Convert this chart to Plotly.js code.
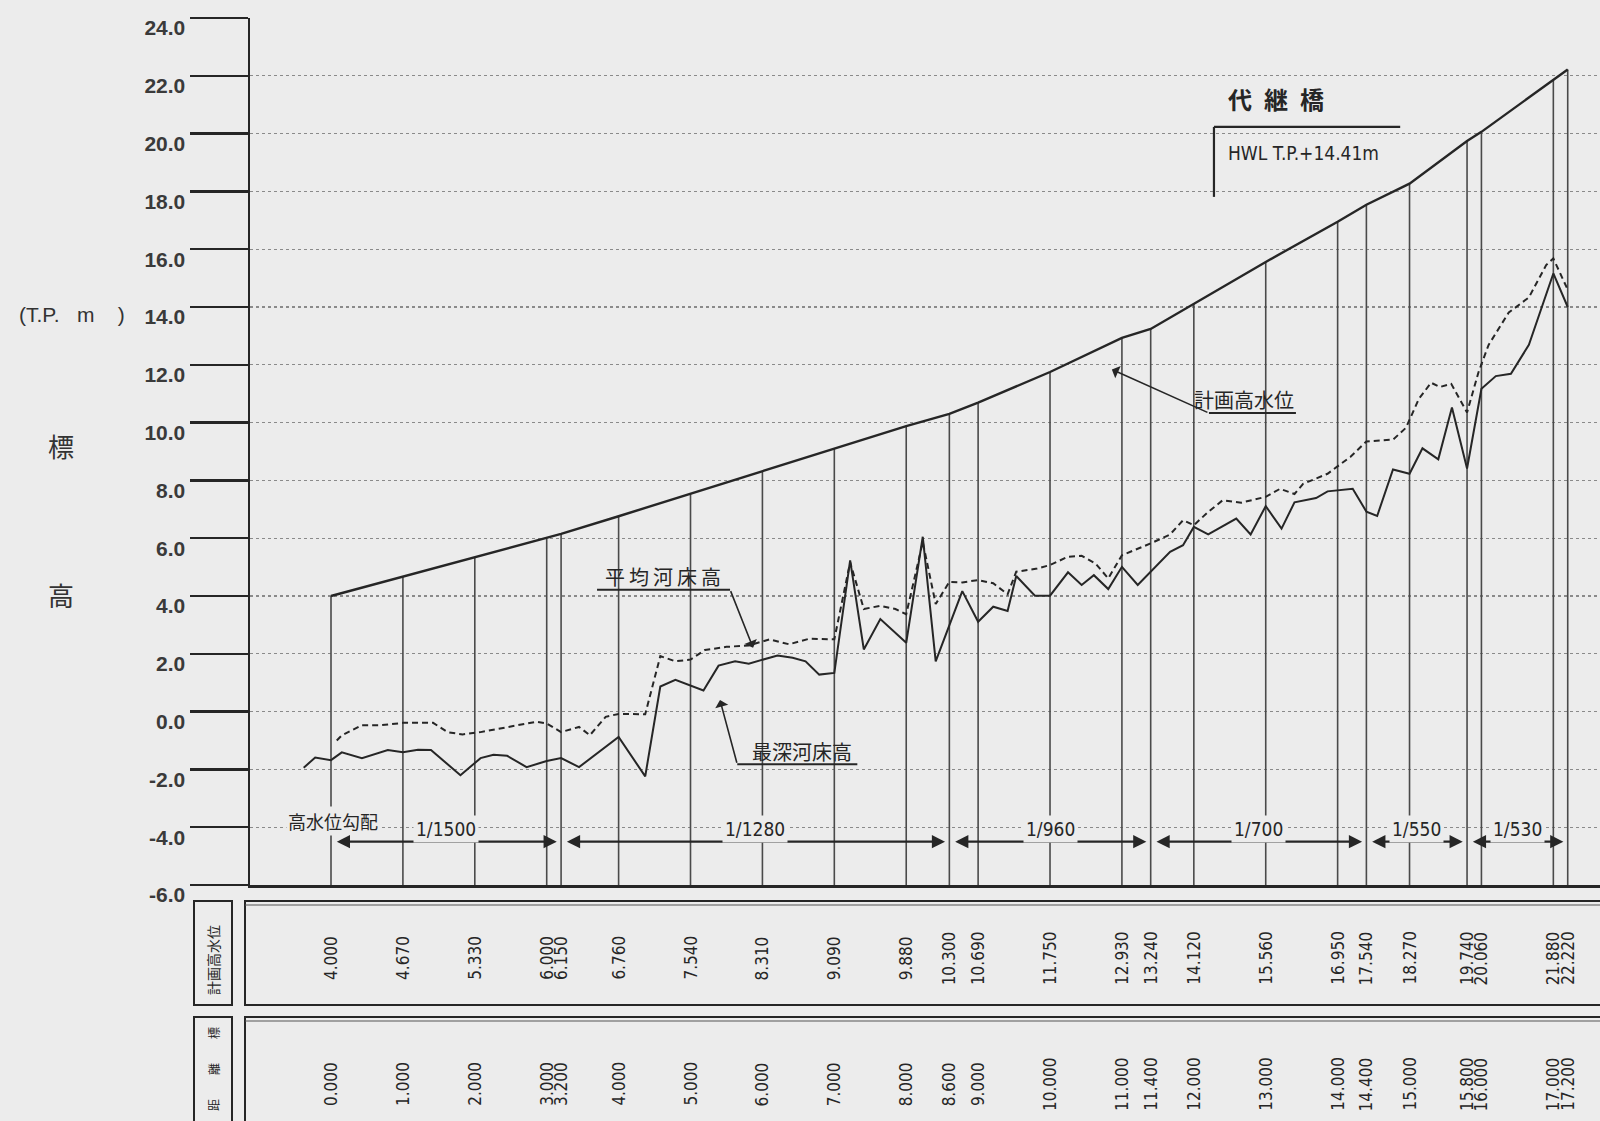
<!DOCTYPE html>
<html>
<head>
<meta charset="utf-8">
<script src="https://cdn.plot.ly/plotly-3.0.1.min.js"></script>
<style>
  html, body { margin: 0; padding: 0; background: #ececec; }
  #chart { width: 1600px; height: 1121px; }
</style>
</head>
<body>
<div id="chart"></div>
<script>
// ---- Data ----
// 距離標 (km) of each section line
const stationKm = [0.0, 1.0, 2.0, 3.0, 3.2, 4.0, 5.0, 6.0, 7.0, 8.0, 8.6, 9.0, 10.0, 11.0, 11.4, 12.0, 13.0, 14.0, 14.4, 15.0, 15.8, 16.0, 17.0, 17.2];
const stationLabels = ["0.000","1.000","2.000","3.000","3.200","4.000","5.000","6.000","7.000","8.000","8.600","9.000","10.000","11.000","11.400","12.000","13.000","14.000","14.400","15.000","15.800","16.000","17.000","17.200"];
// 計画高水位 (T.P. m)
const hwlValues = [4.000, 4.670, 5.330, 6.000, 6.150, 6.760, 7.540, 8.310, 9.090, 9.880, 10.300, 10.690, 11.750, 12.930, 13.240, 14.120, 15.560, 16.950, 17.540, 18.270, 19.740, 20.060, 21.880, 22.220];
const hwlLabels = ["4.000","4.670","5.330","6.000","6.150","6.760","7.540","8.310","9.090","9.880","10.300","10.690","11.750","12.930","13.240","14.120","15.560","16.950","17.540","18.270","19.740","20.060","21.880","22.220"];

// 最深河床高 (deepest bed)
const deepKm = [-0.38,-0.22,0.0,0.15,0.43,0.79,1.0,1.21,1.39,1.8,2.08,2.26,2.45,2.72,3.0,3.2,3.45,4.0,4.37,4.58,4.79,5.0,5.18,5.39,5.62,5.81,6.0,6.21,6.42,6.6,6.79,7.0,7.22,7.41,7.64,8.0,8.23,8.41,8.78,9.0,9.21,9.41,9.53,9.79,10.0,10.25,10.44,10.61,10.81,11.0,11.22,11.67,11.85,12.0,12.2,12.59,12.79,13.0,13.22,13.4,13.7,13.86,14.21,14.4,14.55,14.77,15.0,15.18,15.4,15.59,15.8,16.0,16.2,16.41,16.66,17.0,17.2];
const deepEl = [-1.94,-1.59,-1.68,-1.41,-1.61,-1.33,-1.41,-1.32,-1.33,-2.2,-1.61,-1.49,-1.53,-1.92,-1.71,-1.61,-1.92,-0.88,-2.24,0.87,1.1,0.9,0.73,1.59,1.74,1.66,1.8,1.94,1.86,1.74,1.28,1.34,5.23,2.15,3.2,2.38,6.05,1.74,4.17,3.11,3.63,3.48,4.69,4.01,4.01,4.82,4.38,4.72,4.24,5.01,4.38,5.53,5.76,6.39,6.13,6.68,6.13,7.11,6.33,7.24,7.39,7.62,7.71,6.92,6.77,8.38,8.23,9.11,8.73,10.52,8.41,11.17,11.61,11.69,12.69,15.16,14.0];

// 平均河床高 (mean bed)
const meanKm = [0.08,0.15,0.43,0.7,1.0,1.42,1.62,1.83,2.08,2.45,2.86,3.0,3.2,3.45,3.6,3.82,4.0,4.37,4.58,4.79,5.0,5.2,5.5,5.81,6.1,6.37,6.65,7.0,7.22,7.41,7.64,7.85,8.0,8.23,8.41,8.6,8.78,9.0,9.21,9.41,9.53,9.82,10.0,10.25,10.44,10.63,10.81,11.0,11.4,11.67,11.85,12.0,12.2,12.4,12.66,13.0,13.2,13.4,13.52,13.86,14.18,14.4,14.77,14.95,15.13,15.3,15.42,15.58,15.74,15.8,15.96,16.1,16.38,16.66,16.9,17.0,17.2];
const meanEl = [-1.0,-0.82,-0.47,-0.47,-0.39,-0.39,-0.71,-0.79,-0.71,-0.53,-0.35,-0.41,-0.71,-0.53,-0.82,-0.18,-0.08,-0.09,1.92,1.74,1.8,2.13,2.24,2.29,2.5,2.33,2.52,2.5,5.17,3.55,3.66,3.55,3.37,5.87,3.72,4.49,4.47,4.55,4.44,4.06,4.84,4.95,5.07,5.36,5.39,5.13,4.61,5.41,5.82,6.13,6.62,6.45,6.91,7.31,7.23,7.43,7.71,7.53,7.88,8.23,8.82,9.35,9.41,9.82,10.82,11.38,11.23,11.34,10.64,10.35,11.75,12.69,13.81,14.33,15.45,15.68,14.6];

// 高水位勾配 sections
const slopeStart = [0.0, 3.2, 8.6, 11.4, 14.4, 15.8];
const slopeEnd   = [3.2, 8.6, 11.4, 14.4, 15.8, 17.2];
const slopeLabels = ["1/1500", "1/1280", "1/960", "1/700", "1/550", "1/530"];

// Y axis ticks
const yTicks = [-6,-4,-2,0,2,4,6,8,10,12,14,16,18,20,22,24];
const yTickText = ["-6.0","-4.0","-2.0","0.0","2.0","4.0","6.0","8.0","10.0","12.0","14.0","16.0","18.0","20.0","22.0","24.0"];

// ---- Styling ----
const INK = '#262626';
const BG = '#ececec';
const JP = '"Noto Sans CJK JP", "Noto Sans", sans-serif';
const NUM = '"Liberation Sans Narrow", "DejaVu Sans Condensed", "Liberation Sans", Arial, sans-serif';
const Y_BOTTOM = -6;

// vertical section lines from HWL down to the bottom
const vx = [], vy = [];
stationKm.forEach((k, i) => { vx.push(k, k, null); vy.push(hwlValues[i], Y_BOTTOM, null); });

const traces = [
  { x: vx, y: vy, mode: 'lines', line: { color: '#4a4a4a', width: 1.6 }, hoverinfo: 'skip', showlegend: false },
  { x: stationKm, y: hwlValues, mode: 'lines', name: '計画高水位', line: { color: INK, width: 2.4 }, showlegend: false },
  { x: meanKm, y: meanEl, mode: 'lines', name: '平均河床高', line: { color: INK, width: 2, dash: '6px,4px' }, showlegend: false },
  { x: deepKm, y: deepEl, mode: 'lines', name: '最深河床高', line: { color: INK, width: 2 }, showlegend: false }
];

// pixel -> paper helpers for the table area (plot area: x 250..1600, y 18..885)
const L = 250, R = 1600, T = 18, B = 885;
const px = p => (p - L) / (R - L);
const py = p => (B - p) / (B - T);

const annotations = [];
const shapes = [];

// table numbers
stationKm.forEach((k, i) => {
  annotations.push({ x: k, xref: 'x', y: py(958), yref: 'paper', text: hwlLabels[i], showarrow: false,
    textangle: -90, font: { family: NUM, size: 17, color: INK }, xanchor: 'center', yanchor: 'middle' });
  annotations.push({ x: k, xref: 'x', y: py(1084), yref: 'paper', text: stationLabels[i], showarrow: false,
    textangle: -90, font: { family: NUM, size: 17, color: INK }, xanchor: 'center', yanchor: 'middle' });
});

// table boxes
function rect(x0, y0, x1, y1, w) {
  shapes.push({ type: 'rect', xref: 'paper', yref: 'paper', x0: px(x0), x1: px(x1), y0: py(y0), y1: py(y1),
    line: { color: INK, width: w }, fillcolor: 'rgba(0,0,0,0)', layer: 'above' });
}
rect(194, 901, 232, 1005, 2);
rect(245, 901, 1620, 1005, 2);
rect(194, 1017, 232, 1122, 2);
rect(245, 1017, 1620, 1122, 2);
// double inner top line
shapes.push({ type: 'line', xref: 'paper', yref: 'paper', x0: px(245), x1: px(1620), y0: py(905), y1: py(905), line: { color: '#555', width: 1 } });
shapes.push({ type: 'line', xref: 'paper', yref: 'paper', x0: px(245), x1: px(1620), y0: py(1021), y1: py(1021), line: { color: '#555', width: 1 } });

annotations.push({ x: px(213), y: py(960), xref: 'paper', yref: 'paper', xanchor: 'center', yanchor: 'middle',
  text: '計画高水位', showarrow: false, textangle: -90, font: { family: JP, size: 14, color: INK } });
annotations.push({ x: px(213), y: py(1069), xref: 'paper', yref: 'paper', xanchor: 'center', yanchor: 'middle',
  text: '距\u2003\u2003離\u2003\u2003標', showarrow: false, textangle: -90, font: { family: JP, size: 12, color: INK } });

// y-axis title pieces
annotations.push({ x: px(72), y: py(314), xref: 'paper', yref: 'paper', xanchor: 'center', yanchor: 'middle',
  text: '(T.P.\u00a0\u00a0\u00a0m\u00a0\u00a0\u00a0\u00a0)', showarrow: false,
  font: { family: '"Liberation Sans", Arial, sans-serif', size: 21, color: '#333' } });
annotations.push({ x: px(61), y: py(445), xref: 'paper', yref: 'paper', xanchor: 'center', yanchor: 'middle',
  text: '標', showarrow: false, font: { family: JP, size: 26, color: '#333' } });
annotations.push({ x: px(61), y: py(594), xref: 'paper', yref: 'paper', xanchor: 'center', yanchor: 'middle',
  text: '高', showarrow: false, font: { family: JP, size: 26, color: '#333' } });

// slope section arrows and labels
annotations.push({ x: 0.03, y: -3.8, xanchor: 'center', text: '高水位勾配', showarrow: false,
  font: { family: JP, size: 18, color: INK }, bgcolor: BG });
slopeLabels.forEach((lab, i) => {
  const s = slopeStart[i] + 0.06, e = slopeEnd[i] - 0.06;
  annotations.push({ x: e, y: -4.5, ax: s, ay: -4.5, axref: 'x', ayref: 'y', text: '', showarrow: true,
    arrowhead: 2, arrowside: 'end+start', arrowsize: 1.1, arrowwidth: 2.4, arrowcolor: INK });
  annotations.push({ x: (slopeStart[i] + slopeEnd[i]) / 2, y: -4.05, xanchor: 'center', text: lab, showarrow: false,
    font: { family: NUM, size: 19, color: INK }, bgcolor: BG, borderpad: 2 });
});

// 平均河床高 label
annotations.push({ x: 4.62, y: 4.68, xanchor: 'center', text: '平\u2009均\u2009河\u2009床\u2009高', showarrow: false,
  font: { family: JP, size: 20, color: INK } });
shapes.push({ type: 'line', x0: 3.70, x1: 5.55, y0: 4.22, y1: 4.22, line: { color: INK, width: 2 } });
annotations.push({ x: 5.87, y: 2.21, ax: 5.55, ay: 4.22, axref: 'x', ayref: 'y', text: '', showarrow: true,
  arrowhead: 1, arrowsize: 1.4, arrowwidth: 1.6, arrowcolor: INK });

// 最深河床高 label
annotations.push({ x: 6.55, y: -1.38, xanchor: 'center', text: '最深河床高', showarrow: false,
  font: { family: JP, size: 20, color: INK } });
shapes.push({ type: 'line', x0: 5.65, x1: 7.32, y0: -1.82, y1: -1.82, line: { color: INK, width: 2 } });
annotations.push({ x: 5.41, y: 0.40, ax: 5.65, ay: -1.82, axref: 'x', ayref: 'y', text: '', showarrow: true,
  arrowhead: 1, arrowsize: 1.4, arrowwidth: 1.6, arrowcolor: INK });

// 計画高水位 label
annotations.push({ x: 12.70, y: 10.80, xanchor: 'center', text: '計画高水位', showarrow: false,
  font: { family: JP, size: 20, color: INK } });
shapes.push({ type: 'line', x0: 12.21, x1: 13.42, y0: 10.33, y1: 10.33, line: { color: INK, width: 2 } });
annotations.push({ x: 10.86, y: 11.84, ax: 12.21, ay: 10.33, axref: 'x', ayref: 'y', text: '', showarrow: true,
  arrowhead: 1, arrowsize: 1.4, arrowwidth: 1.6, arrowcolor: INK });

// 代継橋 bracket
annotations.push({ x: 13.14, y: 21.2, xanchor: 'center', text: '代\u2002継\u2002橋', showarrow: false,
  font: { family: JP, size: 24, color: INK, weight: 700 } });
shapes.push({ type: 'line', x0: 12.28, x1: 14.87, y0: 20.23, y1: 20.23, line: { color: INK, width: 2.2 } });
shapes.push({ type: 'line', x0: 12.28, x1: 12.28, y0: 20.23, y1: 17.81, line: { color: INK, width: 2.2 } });
annotations.push({ x: 12.45, y: 19.33, xanchor: 'left', text: 'HWL T.P.+14.41m', showarrow: false,
  font: { family: NUM, size: 19, color: INK } });

const layout = {
  width: 1600, height: 1121,
  paper_bgcolor: BG, plot_bgcolor: BG,
  margin: { l: L, r: 0, t: T, b: 1121 - B },
  showlegend: false,
  xaxis: {
    range: [-1.1266, 17.649], showgrid: false, zeroline: false, showticklabels: false, ticks: '',
    showline: true, linecolor: INK, linewidth: 3, mirror: false, fixedrange: true
  },
  yaxis: {
    range: [-6, 24], tickvals: yTicks, ticktext: yTickText, ticks: 'outside', ticklen: 58, tickwidth: 2.5,
    tickcolor: INK, showline: true, linecolor: INK, linewidth: 2.5, zeroline: false,
    showgrid: true, gridcolor: '#8a8a8a', gridwidth: 1.2, griddash: 'dot',
    ticklabelshift: 10, ticklabelstandoff: 0,
    tickfont: { family: '"Liberation Sans", Arial, sans-serif', size: 21, color: '#3a3a3a', weight: 700 }, fixedrange: true
  },
  annotations: annotations,
  shapes: shapes
};

Plotly.newPlot('chart', traces, layout, { displayModeBar: false, staticPlot: true });
</script>
</body>
</html>
